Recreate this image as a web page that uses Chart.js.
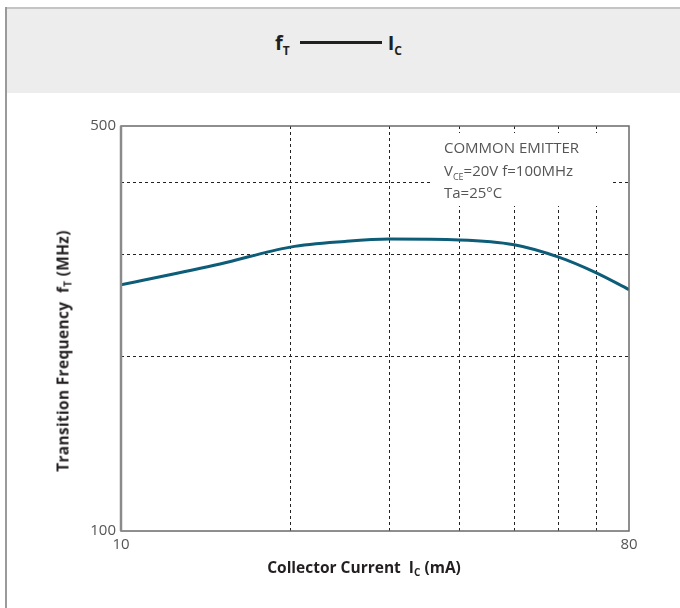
<!DOCTYPE html>
<html>
<head>
<meta charset="utf-8">
<script src="https://cdn.jsdelivr.net/npm/chart.js@4"></script>
<style>
  html, body { margin: 0; padding: 0; background: #fff; }
  body { width: 680px; height: 608px; position: relative; overflow: hidden; font-family: "Open Sans", sans-serif; }
  .frame-top { position: absolute; left: 5px; top: 7px; width: 675px; height: 2px; background: #c4c4c4; }
  .frame-left { position: absolute; left: 5px; top: 7px; width: 2px; height: 601px; background: #9a9a9a; }
  .header { position: absolute; left: 7px; top: 9px; width: 673px; height: 84px; background: #ededed; }
  .title { position: absolute; top: 29px; left: 275px; font-weight: bold; font-size: 20px; color: #231f20; white-space: nowrap; }
  .title sub { font-size: 12px; vertical-align: -5px; }
  .title .dash { display: inline-block; width: 82px; height: 3px; background: #231f20; vertical-align: 6px; margin: 0 6px 0 10px; }
  canvas { position: absolute; left: 0; top: 0; }
  .xlabel { position: absolute; top: 556px; left: 0; width: 728px; text-align: center; font-weight: bold; font-size: 15.5px; color: #231f20; }
  .ylabel { position: absolute; left: 63px; top: 351px; transform: translate(-50%, -50%) rotate(-90deg); white-space: nowrap; font-weight: bold; font-size: 15.5px; letter-spacing: 0.3px; color: #231f20; }
  .xlabel sub, .ylabel sub { font-size: 10px; vertical-align: -3px; }
</style>
</head>
<body>
<div class="frame-top"></div>
<div class="header"></div>
<div class="frame-left"></div>
<div class="title">f<sub>T</sub><span class="dash"></span>I<sub>C</sub></div>
<canvas id="chart" width="680" height="608"></canvas>
<div class="ylabel">Transition Frequency&nbsp; f<sub>T</sub> (MHz)</div>
<div class="xlabel">Collector Current&nbsp; I<sub>C</sub> (mA)</div>

<script>
// Data
const current = [10, 15, 20, 25, 30, 40, 50, 60, 70, 80];
const freq = [266, 289, 309, 316, 319, 318, 312, 297, 279, 261];

// Axis ticks
const xTicks = [10, 20, 30, 40, 50, 60, 70, 80];
const xLabels = [10, 80];
const yTicks = [100, 200, 300, 400, 500];
const yLabels = [100, 500];

const noteLines = ['COMMON EMITTER', 'V|CE|=20V f=100MHz', 'Ta=25°C'];

const edgeColor = (ctx, list) => {
    const v = ctx.tick && ctx.tick.value;
    return (v === list[0] || v === list[list.length - 1]) ? 'rgba(0,0,0,0)' : '#222';
};

// Plot frame and condition note
const framePlugin = {
    id: 'frame',
    beforeDatasetsDraw(chart) {
        const { ctx, chartArea: a } = chart;
        // note box
        ctx.save();
        ctx.fillStyle = '#fff';
        ctx.fillRect(a.left + 309, a.top + 7, 180, 73);
        ctx.fillStyle = '#555';
        ctx.font = '15px "Open Sans", sans-serif';
        ctx.textBaseline = 'alphabetic';
        let y = a.top + 27;
        noteLines.forEach(line => {
            let x = a.left + 323;
            line.split('|').forEach((part, i) => {
                if (i === 1) {
                    ctx.font = '9px "Open Sans", sans-serif';
                    ctx.fillText(part, x, y + 4);
                    x += ctx.measureText(part).width;
                    ctx.font = '15px "Open Sans", sans-serif';
                } else {
                    ctx.fillText(part, x, y);
                    x += ctx.measureText(part).width;
                }
            });
            y += 22.5;
        });
        ctx.restore();
    },
    afterDraw(chart) {
        const { ctx, chartArea: a } = chart;
        ctx.save();
        ctx.strokeStyle = '#6a6a6a';
        ctx.lineWidth = 1.5;
        ctx.strokeRect(a.left, a.top, a.right - a.left, a.bottom - a.top);
        ctx.strokeStyle = '#8a8a8a';
        ctx.lineWidth = 2.5;
        ctx.beginPath();
        ctx.moveTo(a.left, a.top);
        ctx.lineTo(a.left, a.bottom);
        ctx.stroke();
        ctx.restore();
    }
};

const chart = new Chart(document.getElementById('chart').getContext('2d'), {
    type: 'line',
    data: {
        datasets: [{
            data: current.map((c, i) => ({ x: c, y: freq[i] })),
            borderColor: '#0d5c78',
            borderWidth: 3,
            pointRadius: 0,
            fill: false,
            cubicInterpolationMode: 'monotone'
        }]
    },
    options: {
        responsive: false,
        animation: false,
        devicePixelRatio: 1,
        layout: { padding: { left: 61, right: 51, top: 126, bottom: 0 } },
        plugins: { legend: { display: false }, tooltip: { enabled: false } },
        scales: {
            x: {
                type: 'logarithmic',
                min: 10,
                max: 80,
                afterBuildTicks: s => { s.ticks = xTicks.map(v => ({ value: v })); },
                afterFit: s => { s.height = 77; },
                ticks: {
                    autoSkip: false,
                    maxRotation: 0,
                    padding: 5,
                    color: '#555',
                    font: { family: 'Open Sans', size: 15 },
                    callback: v => xLabels.includes(v) ? String(v) : ''
                },
                grid: {
                    color: ctx => edgeColor(ctx, xTicks),
                    lineWidth: 1,
                    drawTicks: false
                },
                border: { display: false, dash: [3, 3] }
            },
            y: {
                type: 'logarithmic',
                min: 100,
                max: 500,
                afterBuildTicks: s => { s.ticks = yTicks.map(v => ({ value: v })); },
                afterFit: s => { s.width = 60; },
                ticks: {
                    autoSkip: false,
                    padding: 5,
                    color: '#555',
                    font: { family: 'Open Sans', size: 15 },
                    callback: v => yLabels.includes(v) ? String(v) : ''
                },
                grid: {
                    color: ctx => edgeColor(ctx, yTicks),
                    lineWidth: 1,
                    drawTicks: false
                },
                border: { display: false, dash: [3, 3] }
            }
        }
    },
    plugins: [framePlugin]
});
</script>
</body>
</html>
